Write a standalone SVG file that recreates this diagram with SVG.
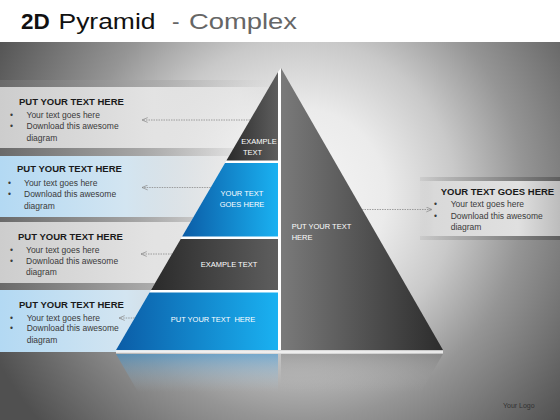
<svg xmlns="http://www.w3.org/2000/svg" width="560" height="420" viewBox="0 0 560 420">
<defs>
<radialGradient id="bg" gradientUnits="userSpaceOnUse" cx="300" cy="195" r="345">
<stop offset="0" stop-color="#f6f6f6"/>
<stop offset="0.25" stop-color="#ebebeb"/>
<stop offset="0.45" stop-color="#c9c9c9"/>
<stop offset="0.65" stop-color="#959595"/>
<stop offset="1" stop-color="#505050"/>
</radialGradient>
<linearGradient id="strip" x1="0" y1="0" x2="1" y2="0">
<stop offset="0" stop-color="#6a6a6a"/>
<stop offset="0.5" stop-color="#a6a6a6"/>
<stop offset="1" stop-color="#d0d0d0" stop-opacity="0"/>
</linearGradient>
<linearGradient id="boxGray" x1="0" y1="0" x2="1" y2="0">
<stop offset="0" stop-color="#cdcdcd"/>
<stop offset="0.55" stop-color="#e3e3e3"/>
<stop offset="0.85" stop-color="#ececec" stop-opacity="0.6"/>
<stop offset="1" stop-color="#eeeeee" stop-opacity="0"/>
</linearGradient>
<linearGradient id="boxBlue" x1="0" y1="0" x2="1" y2="0">
<stop offset="0" stop-color="#b3d9f3"/>
<stop offset="0.45" stop-color="#d3e5f1"/>
<stop offset="0.8" stop-color="#e6e6e6" stop-opacity="0.6"/>
<stop offset="1" stop-color="#e8e8e8" stop-opacity="0"/>
</linearGradient>
<linearGradient id="boxRight" x1="0" y1="0" x2="1" y2="0">
<stop offset="0" stop-color="#d4d4d4" stop-opacity="0.3"/>
<stop offset="0.1" stop-color="#d9d9d9"/>
<stop offset="0.7" stop-color="#e0e0e0"/>
<stop offset="1" stop-color="#bcbcbc"/>
</linearGradient>
<linearGradient id="stripR" x1="0" y1="0" x2="1" y2="0">
<stop offset="0" stop-color="#b0b0b0" stop-opacity="0.3"/>
<stop offset="0.3" stop-color="#a8a8a8"/>
<stop offset="1" stop-color="#5e5e5e"/>
</linearGradient>
<linearGradient id="dark" x1="0" y1="0" x2="1" y2="0">
<stop offset="0" stop-color="#2a2a2a"/>
<stop offset="1" stop-color="#5e5e5e"/>
</linearGradient>
<linearGradient id="blue" x1="0" y1="0" x2="1" y2="0">
<stop offset="0" stop-color="#0b5ca6"/>
<stop offset="1" stop-color="#1ab1f1"/>
</linearGradient>
<linearGradient id="rightTri" x1="0" y1="0" x2="1" y2="0">
<stop offset="0" stop-color="#7a7a7a"/>
<stop offset="1" stop-color="#2c2c2c"/>
</linearGradient>
<linearGradient id="reflBlue" x1="0" y1="0" x2="0" y2="1">
<stop offset="0" stop-color="#2a8fd6" stop-opacity="0.5"/>
<stop offset="1" stop-color="#bcd6e8" stop-opacity="0"/>
</linearGradient>
<linearGradient id="reflGray" x1="0" y1="0" x2="0" y2="1">
<stop offset="0" stop-color="#6a6a6a" stop-opacity="0.4"/>
<stop offset="1" stop-color="#bbbbbb" stop-opacity="0"/>
</linearGradient>
<marker id="arr" viewBox="0 0 10 10" refX="9.5" refY="5" markerWidth="7" markerHeight="6" markerUnits="userSpaceOnUse" orient="auto">
<path d="M0,1 L9.5,5 L0,9" fill="none" stroke="#8a8a8a" stroke-width="1.2"/>
</marker>
</defs>
<style>
.h{font-family:"Liberation Sans",Arial,sans-serif;font-weight:bold;font-size:9.5px;fill:#1a1a1a}
.b{font-family:"Liberation Sans",Arial,sans-serif;font-size:8.5px;fill:#3a3a3a}
.w{font-family:"Liberation Sans",Arial,sans-serif;font-size:7.5px;fill:#ffffff}
.t{font-family:"Liberation Sans",Arial,sans-serif;font-size:22.5px}
.conn{fill:none;stroke:#8a8a8a;stroke-width:0.8;stroke-dasharray:1.5 1;marker-end:url(#arr)}
</style>

<!-- background -->
<rect x="0" y="0" width="560" height="42" fill="#ffffff"/>
<rect x="0" y="42" width="560" height="378" fill="url(#bg)"/>

<!-- title -->
<text class="t" x="21" y="28.5" font-weight="bold" fill="#111">2D</text>
<text class="t" x="58.5" y="28.5" fill="#111" textLength="97" lengthAdjust="spacingAndGlyphs">Pyramid</text>
<text class="t" x="172" y="28.5" fill="#666">-</text>
<text class="t" x="189" y="28.5" fill="#666" textLength="108" lengthAdjust="spacingAndGlyphs">Complex</text>

<!-- left boxes -->
<g id="strips">
<rect x="0" y="80" width="280" height="7" fill="url(#strip)"/>
<rect x="0" y="148" width="280" height="8" fill="url(#strip)"/>
<rect x="0" y="217" width="280" height="5" fill="url(#strip)"/>
<rect x="0" y="283" width="280" height="7" fill="url(#strip)"/>
</g>
<g id="box1">
<rect x="0" y="87" width="280" height="61" fill="url(#boxGray)"/>
<text class="h" x="19" y="105">PUT YOUR TEXT HERE</text>
<text class="b" x="10" y="118">•</text><text class="b" x="26.5" y="118">Your text goes here</text>
<text class="b" x="10" y="129">•</text><text class="b" x="26.5" y="129">Download this awesome</text>
<text class="b" x="26.5" y="140.5">diagram</text>
</g>
<g id="box2">
<rect x="0" y="156" width="280" height="61" fill="url(#boxBlue)"/>
<text class="h" x="17" y="172.3">PUT YOUR TEXT HERE</text>
<text class="b" x="8" y="186.3">•</text><text class="b" x="24" y="186.3">Your text goes here</text>
<text class="b" x="8" y="197.3">•</text><text class="b" x="24" y="197.3">Download this awesome</text>
<text class="b" x="24" y="208.7">diagram</text>
</g>
<g id="box3">
<rect x="0" y="222" width="280" height="61" fill="url(#boxGray)"/>
<text class="h" x="18" y="240">PUT YOUR TEXT HERE</text>
<text class="b" x="10" y="253">•</text><text class="b" x="26" y="253">Your text goes here</text>
<text class="b" x="10" y="264">•</text><text class="b" x="26" y="264">Download this awesome</text>
<text class="b" x="26" y="275.3">diagram</text>
</g>
<g id="box4">
<rect x="0" y="290" width="280" height="62" fill="url(#boxBlue)"/>
<text class="h" x="19" y="307.6">PUT YOUR TEXT HERE</text>
<text class="b" x="10" y="320.7">•</text><text class="b" x="26.7" y="320.7">Your text goes here</text>
<text class="b" x="10" y="331.3">•</text><text class="b" x="26.7" y="331.3">Download this awesome</text>
<text class="b" x="26.7" y="343.3">diagram</text>
</g>

<!-- right box -->
<g id="boxRightNode">
<rect x="420" y="177" width="140" height="4" fill="url(#stripR)"/>
<rect x="420" y="181" width="140" height="55" fill="url(#boxRight)"/>
<rect x="420" y="236" width="140" height="4" fill="url(#stripR)"/>
<text class="h" x="440.7" y="195" font-size="9.3px">YOUR TEXT GOES HERE</text>
<text class="b" x="434" y="207.3">•</text><text class="b" x="450.7" y="207.3">Your text goes here</text>
<text class="b" x="434" y="218.7">•</text><text class="b" x="450.7" y="218.7">Download this awesome</text>
<text class="b" x="450.7" y="230.3">diagram</text>
</g>

<!-- reflection -->
<g id="reflection">
<polygon points="116,354 278,354 278,392 138,392" fill="url(#reflBlue)"/>
<polygon points="281,354 443,354 421,392 281,392" fill="url(#reflGray)"/>
<rect x="116" y="350.5" width="327" height="3" fill="#f4f4f4" opacity="0.85"/>
</g>

<!-- pyramid -->
<polygon points="278,72 281,68 281,350 116,350" fill="#ffffff"/>
<g id="tier1">
<polygon points="278,72 278,160.5 226.4,160.5" fill="url(#dark)"/>
<text class="w" x="259" y="144.3" text-anchor="middle">EXAMPLE</text>
<text class="w" x="252.5" y="155.3" text-anchor="middle">TEXT</text>
</g>
<g id="tier2">
<polygon points="225,163 278,163 278,236.5 182.1,236.5" fill="url(#blue)"/>
<text class="w" x="242" y="196" text-anchor="middle">YOUR TEXT</text>
<text class="w" x="242" y="207" text-anchor="middle">GOES HERE</text>
</g>
<g id="tier3">
<polygon points="180.7,239 278,239 278,290 151,290" fill="url(#dark)"/>
<text class="w" x="229" y="266.6" text-anchor="middle">EXAMPLE TEXT</text>
</g>
<g id="tier4">
<polygon points="149.5,292.5 278,292.5 278,350 116,350" fill="url(#blue)"/>
<text class="w" x="213" y="322" text-anchor="middle" xml:space="preserve">PUT YOUR TEXT  HERE</text>
</g>
<g id="rightHalf">
<polygon points="281,68 443,350 281,350" fill="url(#rightTri)"/>
<text class="w" x="291.7" y="228.6">PUT YOUR TEXT</text>
<text class="w" x="291.7" y="240">HERE</text>
</g>

<!-- connectors -->
<g id="connectors">
<path class="conn" d="M250,120 L142,120"/>
<path class="conn" d="M210.7,187.5 L142,187.5"/>
<path class="conn" d="M172,254 L141,254"/>
<path class="conn" d="M134.7,318 L119,318"/>
<path class="conn" d="M362,209.5 L432,209.5"/>
</g>

<text x="503" y="408" font-family="'Liberation Sans',Arial,sans-serif" font-size="7px" fill="#333">Your Logo</text>
</svg>
